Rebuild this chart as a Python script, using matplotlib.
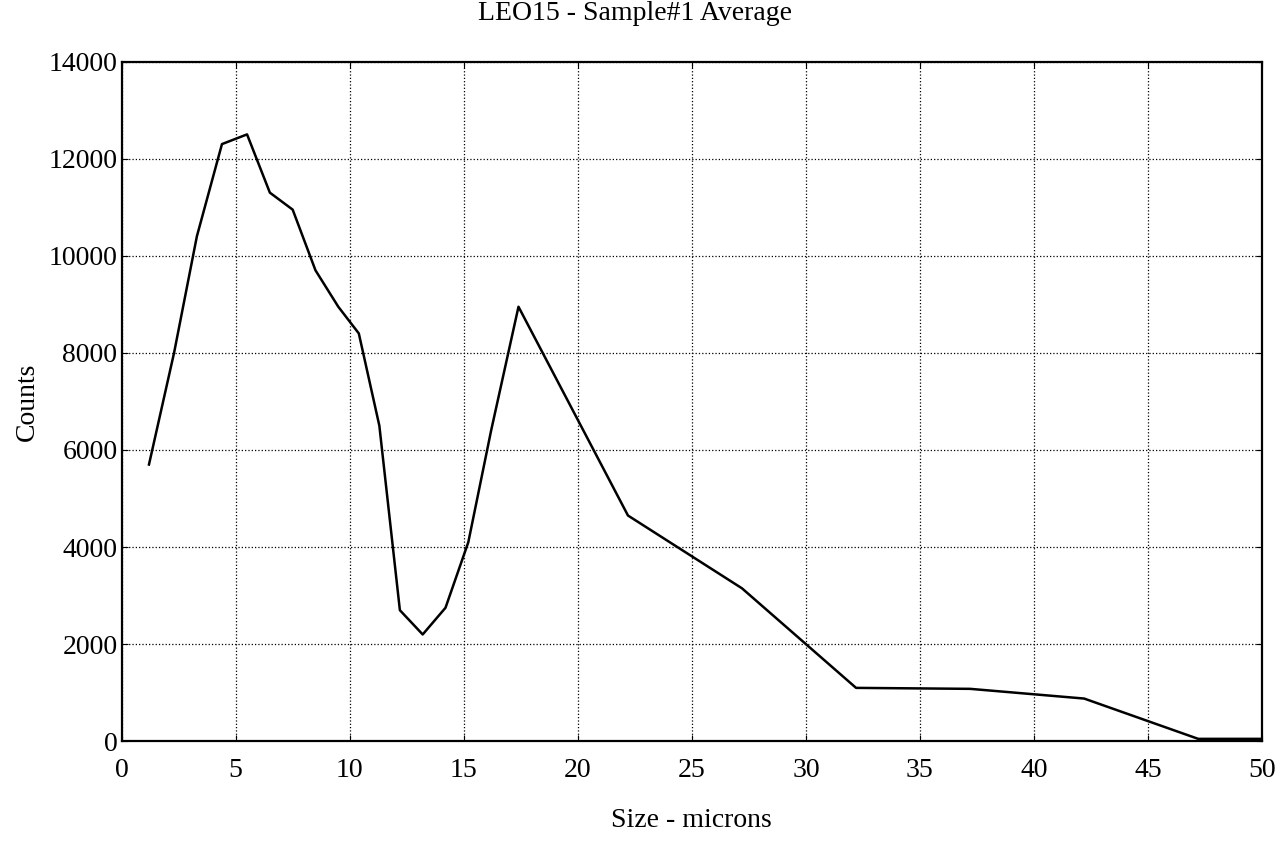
import matplotlib
matplotlib.use("Agg")
import matplotlib.pyplot as plt

# Particle size (microns) and averaged counts
size_um = [1.2, 2.3, 3.3, 4.4, 5.5, 6.5, 7.5, 8.5, 9.5, 10.4, 11.3, 12.2,
           13.2, 14.2, 15.2, 16.2, 17.4, 22.2, 27.2, 32.2, 37.2, 42.2, 47.2, 50.0]
counts = [5700, 8000, 10400, 12300, 12500, 11300, 10950, 9700, 8950, 8400, 6500, 2700,
          2200, 2750, 4100, 6400, 8950, 4650, 3150, 1100, 1080, 880, 50, 50]

x_ticks = [0, 5, 10, 15, 20, 25, 30, 35, 40, 45, 50]
y_ticks = [0, 2000, 4000, 6000, 8000, 10000, 12000, 14000]

plt.rcParams["font.family"] = ["Liberation Serif", "DejaVu Serif"]

fig = plt.figure(figsize=(12.8, 8.55), dpi=100)
ax = fig.add_axes([0.095, 0.133, 0.891, 0.795])

ax.plot(size_um, counts, color="black", linewidth=1.8)

# Set limits and ticks
ax.set_xlim(0, 50)
ax.set_ylim(0, 14000)
ax.set_xticks(x_ticks)
ax.set_yticks(y_ticks)
ax.tick_params(direction="in", length=4, labelsize=20, top=True, right=True)
ax.tick_params(axis="x", pad=12)
ax.tick_params(axis="y", pad=3)

# Dotted grid like the old plotting package
ax.grid(True, color="black", linestyle=":", linewidth=0.9)
for spine in ax.spines.values():
    spine.set_linewidth(1.6)

fig.text(0.496, 0.984, "LEO15 - Sample#1 Average", fontsize=20,
         ha="center", va="center")
ax.set_xlabel("Size - microns", fontsize=20, labelpad=18)
ax.set_ylabel("Counts", fontsize=20, labelpad=6)

fig.savefig("out.png", dpi=100)
